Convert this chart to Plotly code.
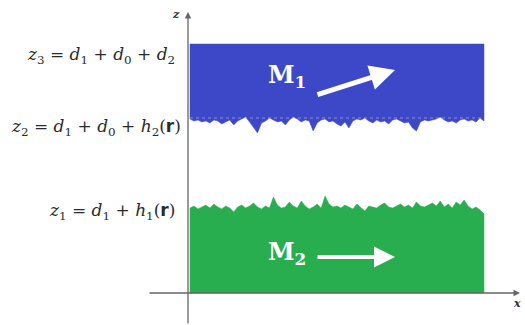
import numpy as np
import plotly.graph_objects as go

# Geometry (data units; z-axis at x=0, x-axis at z=0)
x_left, x_right = 2, 296
z3 = 249          # top of layer M1
z2_mean = 174     # mean interface of M1
z1_mean = 83      # mean interface of M2

# roughness h2 (positive = spike downward), h1 (positive = spike upward)
h2 = [0, 2, 1, 3, 2, 4, 1, 2, 5, 3, 1, 6, 2, 0, -2, 3, 8, 14, 4, 2, -1, 1, 3, 2, 6,
      1, -2, 0, 3, 1, 2, 12, 4, 1, 0, 3, 2, 5, 7, 3, 9, 2, 0, 1, -1, 2, 4, 1, 3, 2,
      5, 1, 0, 2, 4, 3, 9, 12, 3, 1, 2, 1, 0, -2, 1, 3, 2, 4, 1, 0, 2, 1, 3, -1, 2]
h1 = [2, 4, 1, 3, 5, 2, 6, 3, 1, 4, 2, -2, 3, 5, 2, 4, 7, 3, 1, 4, 2, 13, 5, 2, 3,
      8, 4, 2, 9, 4, 1, 3, 6, 2, 14, 6, 3, 4, 2, 5, 3, 1, 6, 2, -1, 4, 3, 2, 5, 7,
      3, 2, 4, 6, 3, 5, 2, 8, 4, 3, 5, 7, 4, 9, 3, 6, 2, 8, 5, 10, 4, 1, 3, 0, -4]

xs2 = np.linspace(x_left, x_right, len(h2))
xs1 = np.linspace(x_left, x_right, len(h1))

blue = "#3c48c8"
green = "#28ae4f"

fig = go.Figure()

# Layer M1 (blue)
bx = [x_left] + list(xs2) + [x_right, x_left]
bz = [z3] + [z2_mean - v for v in h2] + [z3, z3]
fig.add_trace(go.Scatter(x=bx, y=bz, fill="toself", fillcolor=blue, mode="lines",
                         line=dict(color=blue, width=0.5), hoverinfo="skip"))
# faint mean line
fig.add_trace(go.Scatter(x=[x_left, x_right], y=[z2_mean + 1, z2_mean + 1], mode="lines",
                         line=dict(color="rgba(225,200,210,0.55)", width=1, dash="dot"),
                         hoverinfo="skip"))

# Layer M2 (green)
gx = [x_left] + list(xs1) + [x_right, x_left]
gz = [0] + [z1_mean + v for v in h1] + [0, 0]
fig.add_trace(go.Scatter(x=gx, y=gz, fill="toself", fillcolor=green, mode="lines",
                         line=dict(color=green, width=0.5), hoverinfo="skip"))

ann = []
axis_col = "#666666"
# z axis
ann.append(dict(x=0, y=281, ax=0, ay=-32, xref="x", yref="y", axref="x", ayref="y",
                text="", showarrow=True, arrowhead=2, arrowsize=1, arrowwidth=1.3,
                arrowcolor=axis_col))
# x axis
ann.append(dict(x=332, y=0, ax=-40, ay=0, xref="x", yref="y", axref="x", ayref="y",
                text="", showarrow=True, arrowhead=2, arrowsize=1, arrowwidth=1.3,
                arrowcolor=axis_col))
ann.append(dict(x=-12, y=279, text="<b><i>z</i></b>", showarrow=False,
                font=dict(family="DejaVu Serif", size=11, color="#333")))
ann.append(dict(x=329, y=-10, text="<b><i>x</i></b>", showarrow=False,
                font=dict(family="DejaVu Serif", size=11, color="#333")))

r_bold = "<span style=\"font-family:'DejaVu Sans'\"><b>r</b></span>"
eq_font = dict(family="DejaVu Serif", size=17, color="#2a2a2a")
ann.append(dict(x=-11, y=238, xanchor="right", showarrow=False, font=eq_font,
                text="<i>z</i><sub>3</sub> = <i>d</i><sub>1</sub> + <i>d</i><sub>0</sub> + <i>d</i><sub>2</sub>"))
ann.append(dict(x=-5, y=166, xanchor="right", showarrow=False, font=eq_font,
                text="<i>z</i><sub>2</sub> = <i>d</i><sub>1</sub> + <i>d</i><sub>0</sub> + <i>h</i><sub>2</sub>(" + r_bold + ")"))
ann.append(dict(x=-11, y=82, xanchor="right", showarrow=False, font=eq_font,
                text="<i>z</i><sub>1</sub> = <i>d</i><sub>1</sub> + <i>h</i><sub>1</sub>(" + r_bold + ")"))

m_font = dict(family="DejaVu Serif", size=24, color="white")
ann.append(dict(x=99, y=217, showarrow=False, font=m_font, text="<b>M<sub>1</sub></b>"))
ann.append(dict(x=99, y=40, showarrow=False, font=m_font, text="<b>M<sub>2</sub></b>"))
ann.append(dict(x=207, y=223, ax=128, ay=198, xref="x", yref="y", axref="x", ayref="y",
                text="", showarrow=True, arrowhead=2, arrowsize=1.0, arrowwidth=5,
                arrowcolor="white"))
ann.append(dict(x=207, y=36, ax=128, ay=36, xref="x", yref="y", axref="x", ayref="y",
                text="", showarrow=True, arrowhead=2, arrowsize=1.05, arrowwidth=4,
                arrowcolor="white"))

fig.update_layout(
    width=525, height=325, margin=dict(l=0, r=0, t=0, b=0),
    paper_bgcolor="white", plot_bgcolor="white", showlegend=False,
    xaxis=dict(range=[-188, 337], visible=False, fixedrange=True),
    yaxis=dict(range=[-32, 293], visible=False, fixedrange=True),
    annotations=ann,
)
fig.write_html("out.html", config={"displayModeBar": False},
               post_script="document.body.style.margin='0';")
